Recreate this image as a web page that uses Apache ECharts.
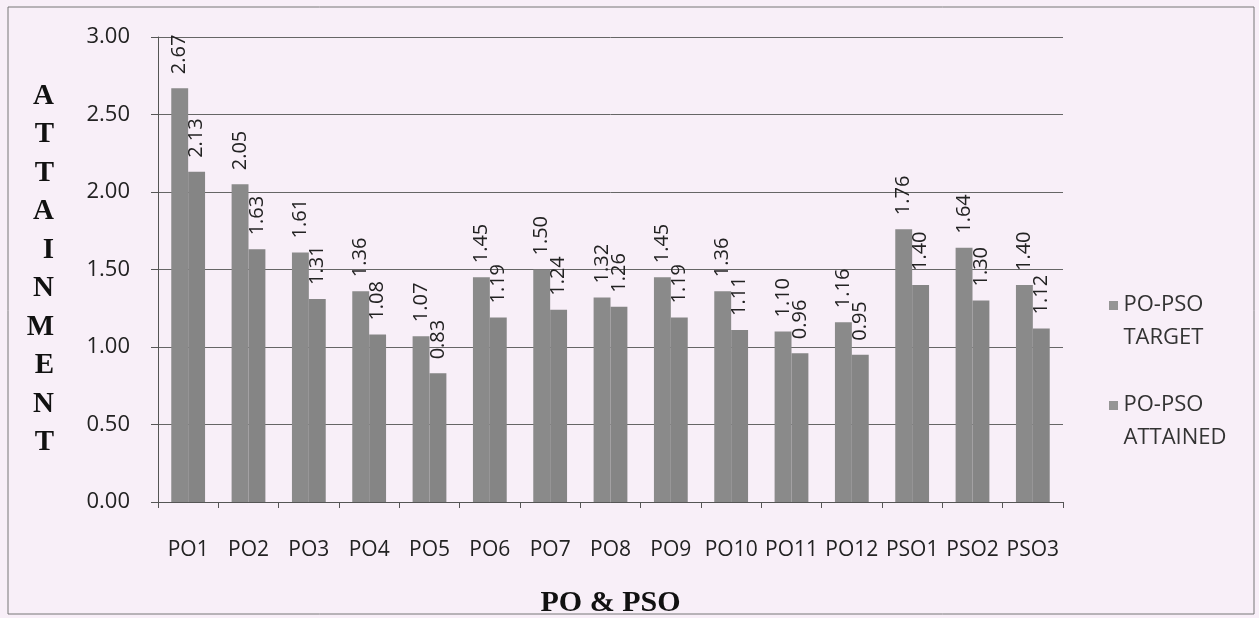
<!DOCTYPE html>
<html>
<head>
<meta charset="utf-8">
<script src="https://cdn.jsdelivr.net/npm/echarts@6/dist/echarts.min.js"></script>
<style>
  html, body { margin: 0; padding: 0; background: #fff; }
  #chart { width: 1259px; height: 618px; }
</style>
</head>
<body>
<div id="chart"></div>
<script>
// categories and values
var categories = ['PO1', 'PO2', 'PO3', 'PO4', 'PO5', 'PO6', 'PO7', 'PO8', 'PO9', 'PO10', 'PO11', 'PO12', 'PSO1', 'PSO2', 'PSO3'];
var targetValues = [2.67, 2.05, 1.61, 1.36, 1.07, 1.45, 1.50, 1.32, 1.45, 1.36, 1.10, 1.16, 1.76, 1.64, 1.40];
var attainedValues = [2.13, 1.63, 1.31, 1.08, 0.83, 1.19, 1.24, 1.26, 1.19, 1.11, 0.96, 0.95, 1.40, 1.30, 1.12];
var seriesNames = ['PO-PSO\nTARGET', 'PO-PSO\nATTAINED'];

var chart = echarts.init(document.getElementById('chart'));

var barLabel = {
  show: true,
  position: 'top',
  rotate: 90,
  align: 'left',
  verticalAlign: 'middle',
  distance: 14,
  color: '#222',
  fontSize: 20,
  fontFamily: 'Open Sans',
  formatter: function (p) { return p.value.toFixed(2); }
};

chart.setOption({
  backgroundColor: '#f8eff8',
  animation: false,
  graphic: [{
    type: 'rect',
    shape: { x: 8, y: 7, width: 1246, height: 607 },
    style: { fill: 'none', stroke: '#777', lineWidth: 1 },
    silent: true
  }],
  grid: { left: 158, right: 196, top: 37, bottom: 116, outerBoundsMode: 'none' },
  legend: {
    orient: 'vertical',
    left: 1104,
    top: 283,
    itemGap: 34,
    itemWidth: 10,
    itemHeight: 40,
    // square at the top of a tall box, so the marker sits beside the first line
    icon: 'path://M0,0h9v9h-9zM0,40h0.01v0.01h-0.01z',
    itemStyle: { color: '#959595' },
    textStyle: { fontSize: 22, color: '#333', fontFamily: 'Open Sans', lineHeight: 33 },
    data: seriesNames
  },
  xAxis: {
    type: 'category',
    data: categories,
    name: 'PO & PSO',
    nameLocation: 'middle',
    nameGap: 86,
    nameTextStyle: { fontFamily: 'Liberation Serif', fontWeight: 'bold', fontSize: 30, color: '#111' },
    axisLine: { lineStyle: { color: '#555' } },
    axisTick: { show: true, length: 6, lineStyle: { color: '#555' } },
    axisLabel: { fontSize: 21, color: '#222', fontFamily: 'Open Sans', margin: 38, interval: 0 }
  },
  yAxis: {
    type: 'value',
    min: 0,
    max: 3,
    interval: 0.5,
    name: 'A\nT\nT\nA\nI\nN\nM\nE\nN\nT',
    nameLocation: 'middle',
    nameRotate: 0,
    nameGap: 104,
    nameTextStyle: { fontFamily: 'Liberation Serif', fontWeight: 'bold', fontSize: 29, color: '#111', lineHeight: 38.5 },
    axisLine: { show: true, lineStyle: { color: '#555' } },
    axisTick: { show: true, length: 7, lineStyle: { color: '#555' } },
    axisLabel: { fontSize: 22, color: '#222', fontFamily: 'Open Sans', margin: 28, formatter: function (v) { return v.toFixed(2); } },
    splitLine: { lineStyle: { color: '#666', width: 1 } }
  },
  series: [
    {
      name: seriesNames[0],
      type: 'bar',
      data: targetValues,
      barGap: '0%',
      barCategoryGap: '44%',
      itemStyle: { color: '#8a8a8a' },
      label: barLabel
    },
    {
      name: seriesNames[1],
      type: 'bar',
      data: attainedValues,
      itemStyle: { color: '#858585' },
      label: barLabel
    }
  ]
});
</script>
</body>
</html>
